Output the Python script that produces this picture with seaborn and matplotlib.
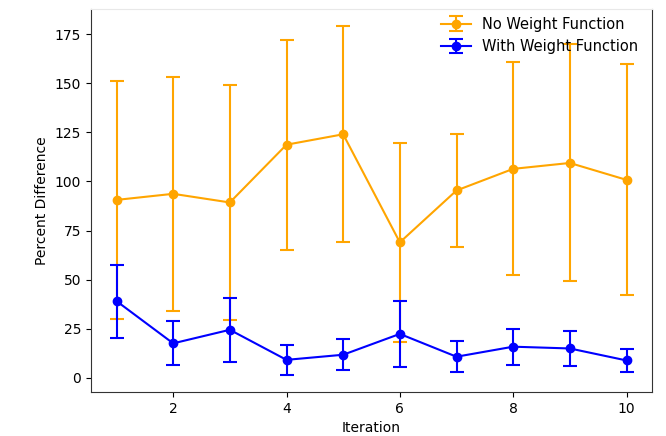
import matplotlib
matplotlib.use("Agg")
import matplotlib.pyplot as plt
from matplotlib.legend_handler import HandlerTuple
import seaborn as sns
import pandas as pd

iterations = [1, 2, 3, 4, 5, 6, 7, 8, 9, 10]
no_weight_mean = [90.6, 93.7, 89.3, 118.7, 124.0, 69.0, 95.4, 106.4, 109.4, 100.8]
no_weight_err = [60.7, 59.5, 59.6, 53.5, 54.9, 50.7, 28.6, 54.2, 60.3, 58.8]
with_weight_mean = [39.1, 17.6, 24.5, 9.2, 11.8, 22.4, 10.8, 15.9, 15.0, 8.9]
with_weight_err = [18.6, 11.2, 16.4, 7.5, 8.0, 16.6, 8.0, 9.1, 8.7, 5.7]
labels = ["No Weight Function", "With Weight Function"]
colors = ["orange", "blue"]

fig = plt.figure(figsize=(6.66, 4.36), dpi=100)
ax = fig.add_axes([91 / 666, 44 / 436, (652 - 91) / 666, (392 - 9) / 436])

handles = []
for mean, err, color in [(no_weight_mean, no_weight_err, colors[0]),
                         (with_weight_mean, with_weight_err, colors[1])]:
    df = pd.DataFrame({"Iteration": iterations, "Value": mean})
    sns.lineplot(data=df, x="Iteration", y="Value", color=color, marker="o",
                 markersize=6, markeredgecolor=color, markeredgewidth=1,
                 linewidth=1.5, legend=False, ax=ax)
    line = ax.lines[-1]
    eb = ax.errorbar(iterations, mean, yerr=err, fmt="none", ecolor=color,
                     elinewidth=1.5, capsize=5, capthick=1.5)
    handles.append((eb, line))

ax.legend(handles, labels, handler_map={tuple: HandlerTuple(ndivide=1)},
          loc="upper right", bbox_to_anchor=(0.986, 0.995), borderaxespad=0,
          frameon=False, fontsize=10.5)
ax.set_xlabel("Iteration")
ax.set_ylabel("Percent Difference")
ax.set_xticks([2, 4, 6, 8, 10])
ax.set_yticks([0, 25, 50, 75, 100, 125, 150, 175])
ax.spines["top"].set_color("#e8e8e8")
for s in ["left", "bottom", "right"]:
    ax.spines[s].set_color("#333333")

fig.savefig("out.png", dpi=100)
